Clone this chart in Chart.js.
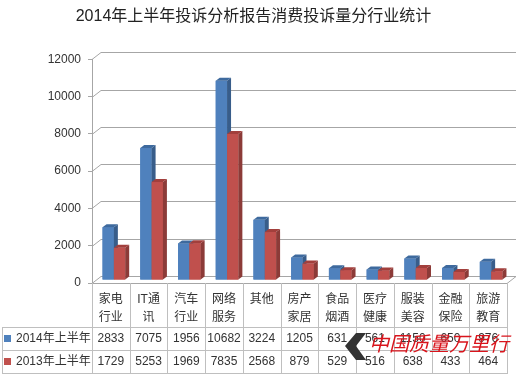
<!DOCTYPE html>
<html lang="zh-CN">
<head>
    <meta charset="UTF-8">
    <title>2014年上半年投诉分析报告消费投诉量分行业统计</title>
    <script src="https://cdn.jsdelivr.net/npm/chart.js"></script>
    <style>
        body { margin: 0; background: #fff; }
        canvas { display: block; }
    </style>
</head>
<body>
    <canvas id="myChart" width="520" height="376"></canvas>

    <script>
        // data
        const categories = [
            ['家电', '行业'], ['IT通', '讯'], ['汽车', '行业'], ['网络', '服务'], ['其他'],
            ['房产', '家居'], ['食品', '烟酒'], ['医疗', '健康'], ['服装', '美容'], ['金融', '保险'], ['旅游', '教育']
        ];
        const seriesNames = ['2014年上半年', '2013年上半年'];
        const values2014 = [2833, 7075, 1956, 10682, 3224, 1205, 631, 561, 1150, 650, 976];
        const values2013 = [1729, 5253, 1969, 7835, 2568, 879, 529, 516, 638, 433, 464];
        const yMin = 0, yMax = 12000, yStep = 2000;

        const FONT = '"Liberation Sans", "Noto Sans CJK SC", sans-serif';
        const GRID = '#A6A6A6';
        const TABLE_LINE = '#BFBFBF';
        const colors = ['#4F81BD', '#C0504D'];
        const sideColors = ['#385D8A', '#8C3B38'];
        const topColors = ['#3E6A9E', '#A23F3C'];

        // depth of the back wall and of the bars
        const WALL_DX = 9, WALL_DY = 7;
        const BAR_DX = 4, BAR_DY = 3;

        const wall3d = {
            id: 'wall3d',
            beforeDatasetsDraw(chart) {
                const {ctx, chartArea: a, scales: {y}} = chart;
                ctx.save();
                ctx.strokeStyle = GRID;
                ctx.lineWidth = 1;
                y.ticks.forEach(t => {
                    const py = Math.round(y.getPixelForValue(t.value)) + 0.5;
                    ctx.beginPath();
                    ctx.moveTo(a.left, py);
                    ctx.lineTo(a.left + WALL_DX, py - WALL_DY);
                    ctx.lineTo(a.right + WALL_DX, py - WALL_DY);
                    ctx.stroke();
                });
                // floor front edge
                const fy = Math.round(a.bottom) + 0.5;
                ctx.beginPath();
                ctx.moveTo(a.left, fy);
                ctx.lineTo(a.right, fy);
                ctx.lineTo(a.right + WALL_DX, fy - WALL_DY);
                ctx.stroke();
                ctx.restore();
                // bars stand in the middle of the floor
                ctx.save();
                ctx.translate(3, -3);
            },
            afterDatasetsDraw(chart) {
                const {ctx} = chart;
                const metas = chart.data.datasets.map((d, i) => chart.getDatasetMeta(i));
                for (let k = 0; k < categories.length; k++) {
                    metas.forEach((meta, j) => {
                        const el = meta.data[k];
                        const l = el.x - el.width / 2, r = el.x + el.width / 2;
                        const top = el.y, base = el.base;
                        ctx.fillStyle = colors[j];
                        ctx.fillRect(l, top, r - l, base - top);
                        ctx.fillStyle = sideColors[j];
                        ctx.beginPath();
                        ctx.moveTo(r, top);
                        ctx.lineTo(r + BAR_DX, top - BAR_DY);
                        ctx.lineTo(r + BAR_DX, base - BAR_DY);
                        ctx.lineTo(r, base);
                        ctx.closePath();
                        ctx.fill();
                        ctx.fillStyle = topColors[j];
                        ctx.beginPath();
                        ctx.moveTo(l, top);
                        ctx.lineTo(l + BAR_DX, top - BAR_DY);
                        ctx.lineTo(r + BAR_DX, top - BAR_DY);
                        ctx.lineTo(r, top);
                        ctx.closePath();
                        ctx.fill();
                    });
                }
                ctx.restore();
            }
        };

        // data table under the plot
        const dataTable = {
            id: 'dataTable',
            afterDraw(chart) {
                const {ctx, chartArea: a, scales: {x}} = chart;
                const w = x.getPixelForValue(1) - x.getPixelForValue(0);
                const top = Math.round(a.bottom);
                const rowY = [327, 350, 373];
                const rows = [values2014, values2013];

                ctx.save();
                ctx.strokeStyle = TABLE_LINE;
                ctx.lineWidth = 1;
                ctx.beginPath();
                for (let i = 0; i <= categories.length; i++) {
                    const bx = Math.round(a.left + i * w) + 0.5;
                    ctx.moveTo(bx, top);
                    ctx.lineTo(bx, rowY[2]);
                }
                ctx.moveTo(2.5, rowY[0]);
                ctx.lineTo(2.5, rowY[2]);
                rowY.forEach(ry => {
                    ctx.moveTo(2, ry + 0.5);
                    ctx.lineTo(Math.round(a.right) + 1, ry + 0.5);
                });
                ctx.stroke();

                ctx.fillStyle = '#333';
                ctx.textAlign = 'center';
                ctx.textBaseline = 'middle';
                ctx.font = '12px ' + FONT;
                categories.forEach((lines, i) => {
                    const cx = x.getPixelForValue(i);
                    lines.forEach((s, n) => ctx.fillText(s, cx, 300 + n * 18));
                    rows.forEach((vals, r) => ctx.fillText(String(vals[i]), cx, rowY[r] + 12));
                });

                ctx.textAlign = 'left';
                seriesNames.forEach((name, r) => {
                    ctx.fillStyle = colors[r];
                    ctx.fillRect(4, rowY[r] + 8, 7, 7);
                    ctx.fillStyle = '#333';
                    ctx.fillText(name, 16, rowY[r] + 12);
                });

                // watermark
                ctx.fillStyle = '#333';
                ctx.beginPath();
                ctx.moveTo(366, 333);
                ctx.lineTo(356, 333);
                ctx.lineTo(345, 346);
                ctx.lineTo(356, 360);
                ctx.lineTo(366, 360);
                ctx.lineTo(356, 346);
                ctx.closePath();
                ctx.fill();
                ctx.fillStyle = '#D9141C';
                ctx.font = 'italic 20px "Noto Sans CJK SC", sans-serif';
                ctx.fillText('中国质量万里行', 369, 343);
                ctx.restore();
            }
        };

        const data = {
            labels: categories,
            datasets: [{
                label: seriesNames[0],
                data: values2014,
                backgroundColor: colors[0],
                borderWidth: 0,
                categoryPercentage: 0.6,
                barPercentage: 1.0
            }, {
                label: seriesNames[1],
                data: values2013,
                backgroundColor: colors[1],
                borderWidth: 0,
                categoryPercentage: 0.6,
                barPercentage: 1.0
            }]
        };

        const config = {
            type: 'bar',
            data: data,
            plugins: [wall3d, dataTable],
            options: {
                responsive: false,
                animation: false,
                layout: {
                    padding: {left: 0, right: 13, top: 0, bottom: 93}
                },
                plugins: {
                    legend: {display: false},
                    tooltip: {enabled: false},
                    title: {
                        display: true,
                        text: '2014年上半年投诉分析报告消费投诉量分行业统计',
                        color: '#222',
                        font: {family: FONT, size: 16, weight: 'normal'},
                        padding: {top: 7, bottom: 33}
                    }
                },
                scales: {
                    x: {
                        display: false
                    },
                    y: {
                        min: yMin,
                        max: yMax,
                        ticks: {
                            stepSize: yStep,
                            color: '#333',
                            font: {family: FONT, size: 12},
                            padding: 7,
                            callback: v => String(v)
                        },
                        grid: {
                            drawOnChartArea: false,
                            drawTicks: true,
                            tickLength: 4,
                            color: GRID
                        },
                        border: {color: GRID},
                        afterFit(scale) {
                            scale.width = 92;
                        }
                    }
                }
            }
        };

        const myChart = new Chart(document.getElementById('myChart'), config);
    </script>
</body>
</html>
